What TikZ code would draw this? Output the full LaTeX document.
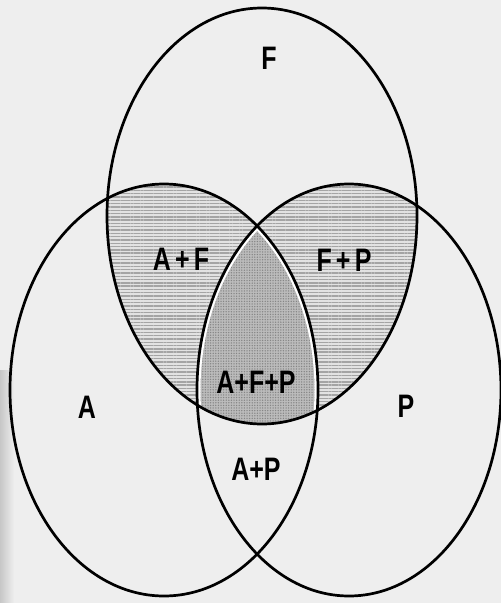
\documentclass[tikz,border=0pt]{standalone}
\usepackage{fontspec}
\setmainfont{Liberation Sans}
\usetikzlibrary{patterns.meta}
\definecolor{bg}{HTML}{EEEEEE}
\definecolor{hatchbase}{HTML}{E2E2E2}
\definecolor{hatchline}{HTML}{A4A4A4}
\definecolor{midbase}{HTML}{BBBBBB}
\definecolor{middot}{HTML}{858585}
\tikzset{
  setline/.style={draw=black, line width=2.7pt},
  lbl/.style={inner sep=0pt, font=\fontsize{25}{25}\selectfont\bfseries},
  hatched/.style={pattern={Lines[angle=0,distance=3.3pt,line width=1.4pt]}, pattern color=hatchline},
}
\newcommand{\setA}{(164,390) ellipse [x radius=154pt, y radius=206pt]}
\newcommand{\setF}{(262,216) ellipse [x radius=155pt, y radius=208pt]}
\newcommand{\setP}{(349,390) ellipse [x radius=152pt, y radius=206pt]}
\begin{document}
\begin{tikzpicture}[x=1pt,y=-1pt]
\useasboundingbox (0,0) rectangle (501,603);
\fill[bg] (0,0) rectangle (501,603);
\shade[left color=black!22, right color=bg] (0,370) rectangle (14,603);
% A and F
\begin{scope}
  \clip \setA;
  \clip \setF;
  \fill[hatchbase] (0,0) rectangle (501,603);
  \fill[hatched] (0,0) rectangle (501,603);
\end{scope}
% F and P
\begin{scope}
  \clip \setF;
  \clip \setP;
  \fill[hatchbase] (0,0) rectangle (501,603);
  \fill[hatched] (0,0) rectangle (501,603);
\end{scope}
% A and F and P
\begin{scope}
  \clip \setA;
  \clip \setF;
  \clip \setP;
  \fill[midbase] (0,0) rectangle (501,603);
  \fill[pattern={Dots[distance=2.6pt,radius=0.75pt]}, pattern color=middot] (0,0) rectangle (501,603);
  \draw[white, line width=7pt] \setA;
  \draw[white, line width=7pt] \setP;
\end{scope}
% outlines
\draw[setline] \setF;
\draw[setline] \setA;
\draw[setline] \setP;
% labels
\node[lbl] (lF)   at (269,58)  {\scalebox{1}[1.3]{F}};
\node[lbl] (lAF)  at (181,259) {\scalebox{1}[1.3]{A\,+\,F}};
\node[lbl] (lFP)  at (344,260) {\scalebox{1}[1.3]{F\,+\,P}};
\node[lbl] (lAFP) at (256,382) {\scalebox{1}[1.3]{A+F+P}};
\node[lbl] (lA)   at (87,407)  {\scalebox{1}[1.3]{A}};
\node[lbl] (lP)   at (406,406) {\scalebox{1}[1.3]{P}};
\node[lbl] (lAP)  at (256,469) {\scalebox{1}[1.3]{A+P}};
\end{tikzpicture}
\end{document}
